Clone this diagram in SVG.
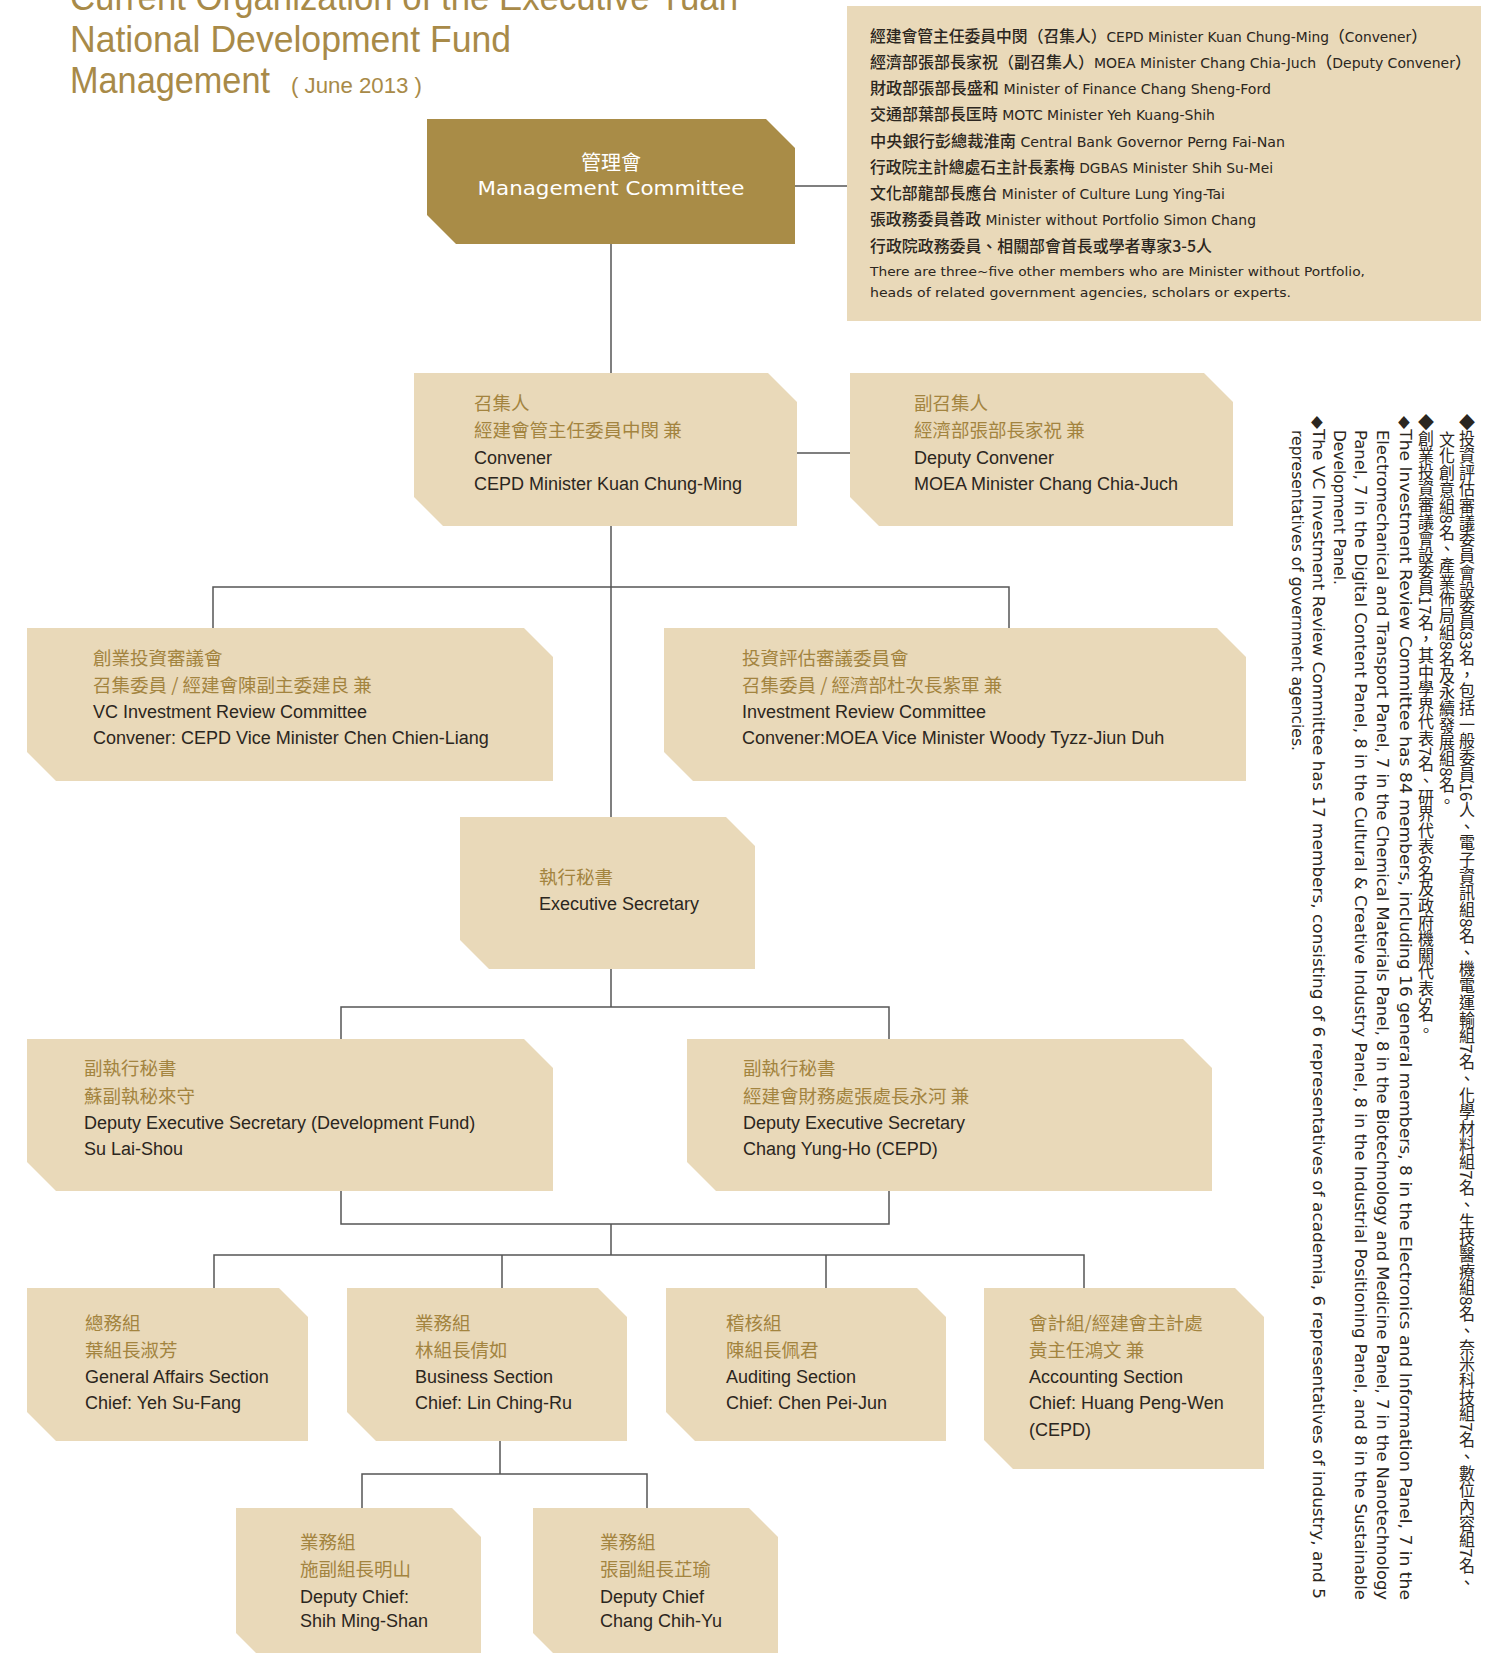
<svg xmlns="http://www.w3.org/2000/svg" width="1491" height="1653" viewBox="0 0 1491 1653">
<style>
.title{font-family:"Liberation Sans","Noto Sans CJK TC",sans-serif;fill:#A88A48;}
.box{fill:#E9D9B9;}
.mc{fill:#A98C47;}
.cj{font-family:"Noto Sans CJK TC","Noto Sans CJK SC",sans-serif;font-size:18.5px;fill:#A3843F;}
.en{font-family:"Liberation Sans","Noto Sans CJK TC",sans-serif;font-size:18px;fill:#2B2620;}
.pn{font-family:"DejaVu Sans","Noto Sans CJK TC",sans-serif;fill:#2B2620;}
.pc{font-family:"Noto Sans CJK TC","Noto Sans CJK SC",sans-serif;font-size:16px;font-weight:500;}
.pe{font-size:14px;}
.note{font-family:"DejaVu Sans","Noto Sans CJK TC",sans-serif;font-size:15px;fill:#2B2620;}
.notec{font-family:"Noto Sans CJK TC","DejaVu Sans",sans-serif;font-size:16px;fill:#2B2620;writing-mode:vertical-rl;}
.conn{fill:none;stroke:#555;stroke-width:1.5;}
</style>
<rect width="1491" height="1653" fill="#FFFFFF"/>

<g id="title">
<text class="title" x="70" y="10" font-size="37" textLength="668" lengthAdjust="spacingAndGlyphs">Current Organization of the Executive Yuan</text>
<text class="title" x="70" y="52" font-size="37" textLength="441" lengthAdjust="spacingAndGlyphs">National Development Fund</text>
<text class="title" x="70" y="93" font-size="37" textLength="200" lengthAdjust="spacingAndGlyphs">Management</text>
<text class="title" x="291" y="93" font-size="22" textLength="131" lengthAdjust="spacingAndGlyphs">( June 2013 )</text>
</g>

<g id="connectors">
<path class="conn" d="M795 186 H847"/>
<path class="conn" d="M611 244 V373"/>
<path class="conn" d="M797 453 H850"/>
<path class="conn" d="M611 526 V817"/>
<path class="conn" d="M213 628 V587 H1009 V628"/>
<path class="conn" d="M611 969 V1007"/>
<path class="conn" d="M341 1039 V1007 H889 V1039"/>
<path class="conn" d="M341 1191 V1224 H889 V1191"/>
<path class="conn" d="M611 1224 V1255"/>
<path class="conn" d="M214 1288 V1255 H1084 V1288"/>
<path class="conn" d="M502 1255 V1288"/>
<path class="conn" d="M826 1255 V1288"/>
<path class="conn" d="M500 1441 V1474"/>
<path class="conn" d="M362 1508 V1474 H647 V1508"/>
</g>

<g id="members-panel">
<rect class="box" x="847" y="6" width="634" height="315"/>
<text class="pn" x="870" y="42" textLength="557" lengthAdjust="spacingAndGlyphs"><tspan class="pc">經建會管主任委員中閔（召集人）</tspan><tspan class="pe">CEPD Minister Kuan Chung-Ming</tspan><tspan class="pc">（</tspan><tspan class="pe">Convener</tspan><tspan class="pc">）</tspan></text>
<text class="pn" x="870" y="68" textLength="601" lengthAdjust="spacingAndGlyphs"><tspan class="pc">經濟部張部長家祝（副召集人）</tspan><tspan class="pe">MOEA Minister Chang Chia-Juch</tspan><tspan class="pc">（</tspan><tspan class="pe">Deputy Convener</tspan><tspan class="pc">）</tspan></text>
<text class="pn" x="870" y="94" textLength="401" lengthAdjust="spacingAndGlyphs"><tspan class="pc">財政部張部長盛和</tspan><tspan class="pe"> Minister of Finance Chang Sheng-Ford</tspan></text>
<text class="pn" x="870" y="120" textLength="345" lengthAdjust="spacingAndGlyphs"><tspan class="pc">交通部葉部長匡時</tspan><tspan class="pe"> MOTC Minister Yeh Kuang-Shih</tspan></text>
<text class="pn" x="870" y="147" textLength="415" lengthAdjust="spacingAndGlyphs"><tspan class="pc">中央銀行彭總裁淮南</tspan><tspan class="pe"> Central Bank Governor Perng Fai-Nan</tspan></text>
<text class="pn" x="870" y="173" textLength="403" lengthAdjust="spacingAndGlyphs"><tspan class="pc">行政院主計總處石主計長素梅</tspan><tspan class="pe"> DGBAS Minister Shih Su-Mei</tspan></text>
<text class="pn" x="870" y="199" textLength="355" lengthAdjust="spacingAndGlyphs"><tspan class="pc">文化部龍部長應台</tspan><tspan class="pe"> Minister of Culture Lung Ying-Tai</tspan></text>
<text class="pn" x="870" y="225" textLength="386" lengthAdjust="spacingAndGlyphs"><tspan class="pc">張政務委員善政</tspan><tspan class="pe"> Minister without Portfolio Simon Chang</tspan></text>
<text class="pn" x="870" y="252" textLength="342" lengthAdjust="spacingAndGlyphs"><tspan class="pc">行政院政務委員、相關部會首長或學者專家3-5人</tspan></text>
<text class="pn" x="870" y="276" font-size="13" textLength="495" lengthAdjust="spacingAndGlyphs">There are three~five other members who are Minister without Portfolio,</text>
<text class="pn" x="870" y="297" font-size="13" textLength="421" lengthAdjust="spacingAndGlyphs">heads of related government agencies, scholars or experts.</text>
</g>

<g id="management-committee">
<polygon class="mc" points="427,119 766,119 795,148 795,244 456,244 427,215"/>
<text x="611" y="170" text-anchor="middle" font-family="Noto Sans CJK TC, sans-serif" font-size="20" fill="#FFFFFF">管理會</text>
<text x="611" y="195" text-anchor="middle" font-family="DejaVu Sans, sans-serif" font-size="20" fill="#FFFFFF" textLength="267" lengthAdjust="spacingAndGlyphs">Management Committee</text>
</g>

<g id="convener">
<polygon class="box" points="414,373 768,373 797,402 797,526 443,526 414,497"/>
<text class="cj" x="474" y="410">召集人</text>
<text class="cj" x="474" y="437">經建會管主任委員中閔 兼</text>
<text class="en" x="474" y="464">Convener</text>
<text class="en" x="474" y="490">CEPD Minister Kuan Chung-Ming</text>
</g>

<g id="deputy-convener">
<polygon class="box" points="850,373 1204,373 1233,402 1233,526 879,526 850,497"/>
<text class="cj" x="914" y="410">副召集人</text>
<text class="cj" x="914" y="437">經濟部張部長家祝 兼</text>
<text class="en" x="914" y="464">Deputy Convener</text>
<text class="en" x="914" y="490">MOEA Minister Chang Chia-Juch</text>
</g>

<g id="vc-investment-review">
<polygon class="box" points="27,628 524,628 553,657 553,781 56,781 27,752"/>
<text class="cj" x="93" y="665">創業投資審議會</text>
<text class="cj" x="93" y="692">召集委員 / 經建會陳副主委建良 兼</text>
<text class="en" x="93" y="718">VC Investment Review Committee</text>
<text class="en" x="93" y="744">Convener: CEPD Vice Minister Chen Chien-Liang</text>
</g>

<g id="investment-review">
<polygon class="box" points="664,628 1217,628 1246,657 1246,781 693,781 664,752"/>
<text class="cj" x="742" y="665">投資評估審議委員會</text>
<text class="cj" x="742" y="692">召集委員 / 經濟部杜次長紫軍 兼</text>
<text class="en" x="742" y="718">Investment Review Committee</text>
<text class="en" x="742" y="744">Convener:MOEA Vice Minister Woody Tyzz-Jiun Duh</text>
</g>

<g id="executive-secretary">
<polygon class="box" points="460,817 726,817 755,846 755,969 489,969 460,940"/>
<text class="cj" x="539" y="884">執行秘書</text>
<text class="en" x="539" y="910">Executive Secretary</text>
</g>

<g id="deputy-es-1">
<polygon class="box" points="27,1039 524,1039 553,1068 553,1191 56,1191 27,1162"/>
<text class="cj" x="84" y="1075">副執行秘書</text>
<text class="cj" x="84" y="1103">蘇副執秘來守</text>
<text class="en" x="84" y="1129">Deputy Executive Secretary (Development Fund)</text>
<text class="en" x="84" y="1155">Su Lai-Shou</text>
</g>

<g id="deputy-es-2">
<polygon class="box" points="687,1039 1183,1039 1212,1068 1212,1191 716,1191 687,1162"/>
<text class="cj" x="743" y="1075">副執行秘書</text>
<text class="cj" x="743" y="1103">經建會財務處張處長永河 兼</text>
<text class="en" x="743" y="1129">Deputy Executive Secretary</text>
<text class="en" x="743" y="1155">Chang Yung-Ho (CEPD)</text>
</g>

<g id="general-affairs">
<polygon class="box" points="27,1288 279,1288 308,1317 308,1441 56,1441 27,1412"/>
<text class="cj" x="85" y="1330">總務組</text>
<text class="cj" x="85" y="1357">葉組長淑芳</text>
<text class="en" x="85" y="1383">General Affairs Section</text>
<text class="en" x="85" y="1409">Chief: Yeh Su-Fang</text>
</g>

<g id="business">
<polygon class="box" points="347,1288 598,1288 627,1317 627,1441 376,1441 347,1412"/>
<text class="cj" x="415" y="1330">業務組</text>
<text class="cj" x="415" y="1357">林組長倩如</text>
<text class="en" x="415" y="1383">Business Section</text>
<text class="en" x="415" y="1409">Chief: Lin Ching-Ru</text>
</g>

<g id="auditing">
<polygon class="box" points="666,1288 917,1288 946,1317 946,1441 695,1441 666,1412"/>
<text class="cj" x="726" y="1330">稽核組</text>
<text class="cj" x="726" y="1357">陳組長佩君</text>
<text class="en" x="726" y="1383">Auditing Section</text>
<text class="en" x="726" y="1409">Chief: Chen Pei-Jun</text>
</g>

<g id="accounting">
<polygon class="box" points="984,1288 1235,1288 1264,1317 1264,1469 1013,1469 984,1440"/>
<text class="cj" x="1029" y="1330">會計組/經建會主計處</text>
<text class="cj" x="1029" y="1357">黃主任鴻文 兼</text>
<text class="en" x="1029" y="1383">Accounting Section</text>
<text class="en" x="1029" y="1409">Chief: Huang Peng-Wen</text>
<text class="en" x="1029" y="1436">(CEPD)</text>
</g>

<g id="deputy-chief-1">
<polygon class="box" points="236,1508 452,1508 481,1537 481,1662 265,1662 236,1633"/>
<text class="cj" x="300" y="1549">業務組</text>
<text class="cj" x="300" y="1576">施副組長明山</text>
<text class="en" x="300" y="1603">Deputy Chief:</text>
<text class="en" x="300" y="1627">Shih Ming-Shan</text>
</g>

<g id="deputy-chief-2">
<polygon class="box" points="533,1508 749,1508 778,1537 778,1662 562,1662 533,1633"/>
<text class="cj" x="600" y="1549">業務組</text>
<text class="cj" x="600" y="1576">張副組長芷瑜</text>
<text class="en" x="600" y="1603">Deputy Chief</text>
<text class="en" x="600" y="1627">Chang Chih-Yu</text>
</g>

<g id="notes">
<text class="notec" x="1467" y="414" textLength="1177" lengthAdjust="spacingAndGlyphs">◆投資評估審議委員會設委員83名，包括一般委員16人、電子資訊組8名、機電運輸組7名、化學材料組7名、生技醫療組8名、奈米科技組7名、數位內容組7名、</text>
<text class="notec" x="1447" y="431" textLength="379" lengthAdjust="spacingAndGlyphs">文化創意組8名、產業佈局組8名及永續發展組8名。</text>
<text class="notec" x="1426" y="414" textLength="625" lengthAdjust="spacingAndGlyphs">◆創業投資審議會設委員17名，其中學界代表7名、研界代表6名及政府機關代表5名。</text>
<text class="note" x="1400" y="416" transform="rotate(90 1400 416)" textLength="1184" lengthAdjust="spacingAndGlyphs">◆The Investment Review Committee has 84 members, including 16 general members, 8 in the Electronics and Information Panel, 7 in the</text>
<text class="note" x="1377" y="430" transform="rotate(90 1377 430)" textLength="1170" lengthAdjust="spacingAndGlyphs">Electromechanical and Transport Panel, 7 in the Chemical Materials Panel, 8 in the Biotechnology and Medicine Panel, 7 in the Nanotechnology</text>
<text class="note" x="1355" y="430" transform="rotate(90 1355 430)" textLength="1170" lengthAdjust="spacingAndGlyphs">Panel, 7 in the Digital Content Panel, 8 in the Cultural &amp; Creative Industry Panel, 8 in the Industrial Positioning Panel, and 8 in the Sustainable</text>
<text class="note" x="1334" y="430" transform="rotate(90 1334 430)" textLength="155" lengthAdjust="spacingAndGlyphs">Development Panel.</text>
<text class="note" x="1313" y="416" transform="rotate(90 1313 416)" textLength="1183" lengthAdjust="spacingAndGlyphs">◆The VC Investment Review Committee has 17 members, consisting of 6 representatives of academia, 6 representatives of industry, and 5</text>
<text class="note" x="1292" y="430" transform="rotate(90 1292 430)" textLength="321" lengthAdjust="spacingAndGlyphs">representatives of government agencies.</text>
</g>
</svg>
